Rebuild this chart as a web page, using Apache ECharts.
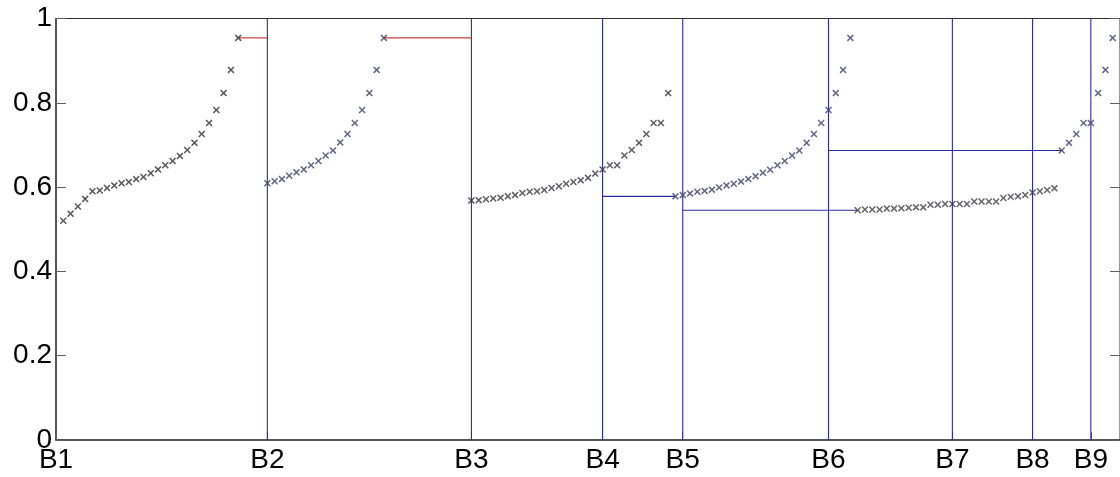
<!DOCTYPE html>
<html>
<head>
<meta charset="utf-8">
<script src="https://cdn.jsdelivr.net/npm/echarts@6/dist/echarts.min.js"></script>
<style>
html,body{margin:0;padding:0;background:#fff;}
#chart{width:1120px;height:477px;}
</style>
</head>
<body>
<div id="chart"></div>
<script>
// Tick labels on the x axis and their positions (point index units)
const categories = ['B1','B2','B3','B4','B5','B6','B7','B8','B9'];
const boundaryPos = [0, 29, 57, 75, 86, 106, 123, 134, 142];
const yTicks = [0, 0.2, 0.4, 0.6, 0.8, 1];

// Sorted values per group; groupStarts gives the index of each group's first point
const groupStarts = [1, 29, 57, 85, 110, 138];
const group1 = [0.520,0.537,0.554,0.572,0.590,0.592,0.598,0.604,0.609,0.612,0.619,0.624,0.633,0.642,0.652,0.662,0.674,0.688,0.705,0.726,0.752,0.783,0.823,0.878,0.954];
const group2 = [0.609,0.614,0.619,0.627,0.635,0.642,0.652,0.662,0.675,0.687,0.706,0.726,0.752,0.783,0.823,0.878,0.954];
const group3 = [0.568,0.569,0.571,0.573,0.575,0.578,0.581,0.586,0.589,0.590,0.593,0.598,0.602,0.608,0.612,0.616,0.622,0.632,0.642,0.652,0.652,0.675,0.688,0.705,0.726,0.752,0.752,0.823];
const group4 = [0.578,0.581,0.585,0.589,0.591,0.594,0.599,0.604,0.608,0.613,0.619,0.626,0.634,0.641,0.652,0.662,0.675,0.687,0.705,0.726,0.752,0.783,0.823,0.878,0.954];
const group5 = [0.545,0.547,0.547,0.547,0.549,0.549,0.550,0.551,0.552,0.552,0.558,0.558,0.560,0.560,0.560,0.560,0.566,0.566,0.566,0.566,0.574,0.577,0.578,0.581,0.587,0.590,0.593,0.597];
const group6 = [0.687,0.705,0.726,0.752,0.752,0.823,0.878,0.954];

// Connector segments: [fromIndex, toIndex, value]
const redLines = [[25, 29, 0.954], [45, 57, 0.954]];
const blueLines = [[75, 85, 0.578], [86, 110, 0.545], [106, 138, 0.687]];

const groups = [group1, group2, group3, group4, group5, group6];
const markerColors = ['#2e2e2e', '#3e3e66', '#34343e', '#3e3e66', '#404046', '#3e3e66'];
const xPath = 'path://M1.5,0 L5,3.5 L8.5,0 L10,1.5 L6.5,5 L10,8.5 L8.5,10 L5,6.5 L1.5,10 L0,8.5 L3.5,5 L0,1.5 Z';

const BLUE = '#2c2ca8';
const RED = '#d03c3c';

const series = [];

function segSeries(pts, color, w) {
  return {
    type: 'line', data: pts, symbol: 'none', silent: true, animation: false, z: 2,
    lineStyle: { color: color, width: w, type: 'solid' }, itemStyle: { color: color },
    clip: false
  };
}

// vertical boundary lines (B2..B9)
boundaryPos.slice(1).forEach(p => series.push(segSeries([[p, 0], [p, 1]], BLUE, 1.1)));
// horizontal connectors
blueLines.forEach(s => series.push(segSeries([[s[0], s[2]], [s[1], s[2]]], BLUE, 1.1)));
redLines.forEach(s => series.push(segSeries([[s[0], s[2]], [s[1], s[2]]], RED, 1.2)));

groups.forEach((g, gi) => series.push({
  type: 'scatter',
  symbol: xPath,
  symbolSize: 7,
  z: 5,
  itemStyle: { color: markerColors[gi] },
  data: g.map((v, k) => [groupStarts[gi] + k, v]),
  silent: true,
  animation: false
}));

const chart = echarts.init(document.getElementById('chart'), null, { renderer: 'canvas' });
chart.setOption({
  animation: false,
  backgroundColor: '#ffffff',
  textStyle: { fontFamily: 'Liberation Sans, Arial, sans-serif' },
  grid: {
    left: 56, top: 18.5, right: -1.2, bottom: 37,
    show: true, borderColor: '#303030', borderWidth: 1, backgroundColor: 'transparent'
  },
  xAxis: {
    type: 'value', min: 0, max: 146,
    axisLine: { show: true, onZero: false, lineStyle: { color: '#404040', width: 1.5 } },
    axisTick: { show: true, inside: true, length: 8, customValues: boundaryPos, lineStyle: { color: '#606060' } },
    axisLabel: {
      show: true, customValues: boundaryPos,
      formatter: v => categories[boundaryPos.indexOf(v)] || '',
      fontSize: 28, color: '#000', margin: 6, fontFamily: 'Liberation Sans'
    },
    splitLine: { show: false }
  },
  yAxis: [{
    type: 'value', min: 0, max: 1, interval: 0.2,
    axisLine: { show: true, lineStyle: { color: '#404040', width: 1.5 } },
    axisTick: { show: true, inside: true, length: 10, customValues: yTicks, lineStyle: { color: '#606060' } },
    axisLabel: {
      show: true, customValues: yTicks,
      formatter: v => String(Math.round(v * 10) / 10),
      fontSize: 28, color: '#000', margin: 4, fontFamily: 'Liberation Sans'
    },
    splitLine: { show: false }
  }, {
    type: 'value', min: 0, max: 1, interval: 0.2, position: 'right',
    axisLine: { show: true, lineStyle: { color: '#404040' } },
    axisTick: { show: true, inside: true, length: 10, lineStyle: { color: '#606060' } },
    axisLabel: { show: false },
    splitLine: { show: false }
  }],
  series: series
});
</script>
</body>
</html>
